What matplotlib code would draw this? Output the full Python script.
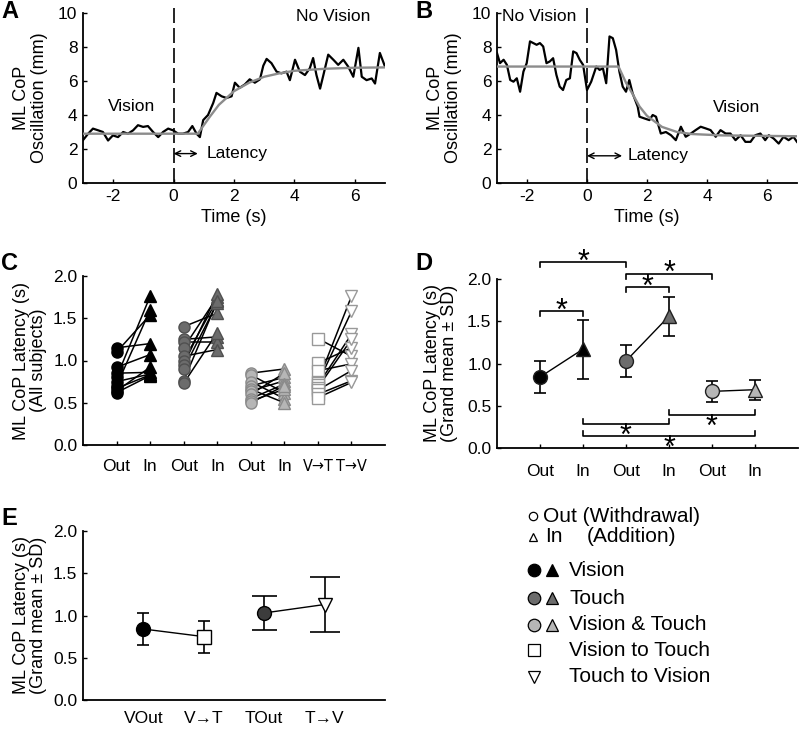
import matplotlib
matplotlib.use("Agg")
import matplotlib.pyplot as plt

plt.rcParams['font.family'] = ['Liberation Sans', 'DejaVu Sans']
plt.rcParams['axes.unicode_minus'] = False

# ---- panel A: vision -> no vision ----
a_t = [-3.00, -2.83, -2.67, -2.50, -2.34, -2.17, -2.01, -1.84, -1.67, -1.51,
       -1.34, -1.18, -1.01, -0.85, -0.68, -0.51, -0.35, -0.18, -0.02, 0.15,
       0.31, 0.48, 0.62, 0.76, 0.87, 0.98, 1.14, 1.31, 1.42, 1.59,
       1.75, 1.92, 2.03, 2.19, 2.36, 2.52, 2.69, 2.86, 2.97, 3.08,
       3.24, 3.41, 3.57, 3.74, 3.85, 4.02, 4.18, 4.35, 4.51, 4.62,
       4.73, 4.85, 4.96, 5.12, 5.29, 5.45, 5.62, 5.78, 5.95, 6.12,
       6.23, 6.39, 6.56, 6.67, 6.83, 7.00]
a_cop = [2.52, 2.9, 3.2, 3.1, 3.0, 2.5, 2.8, 2.7, 3.0, 2.9,
         3.1, 3.4, 3.3, 3.35, 3.0, 2.7, 3.0, 3.2, 3.1, 2.9,
         2.9, 3.0, 3.35, 2.9, 2.7, 3.7, 4.0, 4.7, 5.3, 5.1,
         5.0, 5.1, 5.9, 5.6, 5.8, 6.1, 5.9, 6.1, 6.9, 7.3,
         7.05, 6.55, 6.45, 6.55, 6.05, 7.25, 6.55, 6.35, 6.75, 7.35,
         6.35, 5.55, 6.35, 7.55, 7.25, 6.95, 7.25, 6.85, 6.25, 7.95,
         6.25, 6.05, 6.15, 5.85, 7.65, 6.85]
a_fit_t = [-3.0, 0.8, 1.0, 1.2, 1.5, 2.0, 2.5, 3.0, 3.5, 4.0, 5.0, 6.0, 7.0]
a_fit = [2.9, 2.9, 3.4, 3.9, 4.6, 5.4, 5.9, 6.25, 6.45, 6.6, 6.72, 6.78, 6.8]

# ---- panel B: no vision -> vision ----
b_t = [-3.0, -2.90, -2.78, -2.67, -2.56, -2.45, -2.34, -2.23, -2.12, -2.01,
       -1.90, -1.79, -1.68, -1.57, -1.46, -1.35, -1.24, -1.13, -1.02, -0.91,
       -0.80, -0.69, -0.57, -0.46, -0.35, -0.24, -0.13, 0.0, 0.14, 0.31,
       0.42, 0.53, 0.64, 0.75, 0.86, 0.97, 1.08, 1.19, 1.30, 1.41,
       1.52, 1.69, 1.75, 1.91, 2.08, 2.19, 2.30, 2.46, 2.63, 2.80,
       2.96, 3.13, 3.29, 3.46, 3.62, 3.79, 3.96, 4.12, 4.29, 4.45,
       4.62, 4.78, 4.95, 5.12, 5.28, 5.45, 5.61, 5.78, 5.94, 6.06,
       6.22, 6.39, 6.55, 6.72, 6.88, 7.0]
b_cop = [7.64, 7.05, 7.25, 6.95, 6.06, 5.96, 6.16, 5.37, 6.55, 7.05,
         8.33, 8.23, 8.13, 8.23, 8.03, 7.05, 7.15, 7.34, 6.36, 5.67,
         5.47, 6.06, 6.16, 7.74, 7.64, 7.24, 6.95, 5.47, 5.96, 6.85,
         6.65, 6.75, 5.87, 8.62, 8.52, 7.83, 6.55, 5.67, 5.37, 6.06,
         5.28, 4.49, 3.90, 3.80, 3.70, 4.0, 3.9, 2.91, 3.0, 2.81,
         2.52, 3.31, 2.72, 2.91, 3.11, 3.31, 3.21, 3.11, 2.72, 3.11,
         2.91, 2.91, 2.52, 2.81, 2.42, 2.42, 2.81, 2.91, 2.52, 2.81,
         2.62, 2.32, 2.72, 2.52, 2.72, 2.42]
b_fit_t = [-3.0, 1.05, 1.3, 1.5, 1.75, 2.0, 2.5, 3.0, 3.5, 4.5, 7.0]
b_fit = [6.85, 6.85, 5.9, 5.3, 4.5, 3.95, 3.3, 3.0, 2.88, 2.8, 2.75]

# ---- panel C: individual latencies (s) ----
c_labels = ["Out", "In", "Out", "In", "Out", "In", "V\u2192T", "T\u2192V"]
c_vis_out = [1.15, 1.10, 0.92, 0.85, 0.80, 0.75, 0.70, 0.67, 0.64, 0.62]
c_vis_in = [1.20, 1.54, 1.07, 0.86, 1.76, 0.84, 1.60, 0.83, 0.92, 0.82]
c_tou_out = [1.40, 1.25, 1.22, 1.15, 1.05, 1.00, 0.95, 0.90, 0.76, 0.73]
c_tou_in = [1.56, 1.28, 1.22, 1.75, 1.13, 1.72, 1.79, 1.68, 1.70, 1.33]
c_vt_out = [0.85, 0.83, 0.75, 0.70, 0.66, 0.64, 0.60, 0.55, 0.52, 0.50]
c_vt_in = [0.90, 0.62, 0.55, 0.80, 0.50, 0.76, 0.85, 0.72, 0.66, 0.70]
c_v2t = [1.26, 0.97, 0.88, 0.75, 0.73, 0.71, 0.68, 0.65, 0.60, 0.56]
c_t2v = [1.05, 1.15, 0.96, 1.76, 1.58, 1.31, 1.25, 0.88, 0.76, 0.74]

# ---- panel D: grand means ----
d_labels = ["Out", "In", "Out", "In", "Out", "In"]
d_mean = [0.84, 1.17, 1.03, 1.56, 0.67, 0.69]
d_sd = [0.19, 0.35, 0.19, 0.23, 0.12, 0.12]
# (from, to, bar level) ; top brackets open downward, bottom ones upward
d_sig_top = [(1, 2, 1.62), (1, 3, 2.20), (3, 4, 1.90), (3, 5, 2.06)]
d_sig_bot = [(4, 6, 0.39), (2, 4, 0.285), (2, 6, 0.142)]

# ---- panel E ----
e_labels = ["VOut", "V\u2192T", "TOut", "T\u2192V"]
e_mean = [0.84, 0.75, 1.03, 1.13]
e_sd = [0.19, 0.19, 0.20, 0.32]

BLACK, DGRAY, LGRAY = "#000000", "#6c6c6c", "#b6b6b6"

fig = plt.figure(figsize=(8, 7.3), dpi=100)
W, H = 800.0, 730.0


def box(l, r, t, b):
    return [l / W, 1 - b / H, (r - l) / W, (b - t) / H]


def style(ax):
    for s in ["top", "right"]:
        ax.spines[s].set_visible(False)
    for s in ["left", "bottom"]:
        ax.spines[s].set_linewidth(1.3)
    ax.tick_params(direction="in", length=3, width=1, labelsize=12.5, pad=4)


def trace(ax, t, y, ft, fy):
    style(ax)
    ax.plot(t, y, color="k", lw=1.6, zorder=3)
    ax.plot(ft, fy, color="#8c8c8c", lw=1.7, zorder=4)
    ax.plot([0, 0], [0, 10.3], color="k", lw=1.2, ls=(0, (9, 3)), clip_on=False)
    ax.set_xlim(-3, 7)
    ax.set_ylim(0, 10)
    ax.set_xticks([-2, 0, 2, 4, 6])
    ax.set_yticks([0, 2, 4, 6, 8, 10])
    ax.set_xlabel("Time (s)", fontsize=13, labelpad=4)
    ax.set_ylabel("ML CoP\nOscillation (mm)", fontsize=13, linespacing=1.1)
    ax.yaxis.set_label_coords(-0.115, 0.5)


axA = fig.add_axes(box(83, 385, 13, 183))
trace(axA, a_t, a_cop, a_fit_t, a_fit)
axA.annotate("", xy=(0.8, 1.73), xytext=(0, 1.73),
             arrowprops=dict(arrowstyle="<->", lw=1.0, color="k", shrinkA=0, shrinkB=0))
axA.text(1.1, 1.73, "Latency", fontsize=12.5, va="center")
axA.text(5.3, 9.8, "No Vision", fontsize=12.5, ha="center", va="center")
axA.text(-1.4, 4.5, "Vision", fontsize=12.5, ha="center", va="center")

axB = fig.add_axes(box(497, 797, 13, 183))
trace(axB, b_t, b_cop, b_fit_t, b_fit)
axB.annotate("", xy=(1.17, 1.6), xytext=(0, 1.6),
             arrowprops=dict(arrowstyle="<->", lw=1.0, color="k", shrinkA=0, shrinkB=0))
axB.text(1.35, 1.6, "Latency", fontsize=12.5, va="center")
axB.text(-1.6, 9.8, "No Vision", fontsize=12.5, ha="center", va="center")
axB.text(5.0, 4.45, "Vision", fontsize=12.5, ha="center", va="center")

# ---- C ----
axC = fig.add_axes(box(83, 385, 276, 445))
style(axC)
groups = [
    (c_vis_out, c_vis_in, dict(marker="o", mfc=BLACK, mec=BLACK), dict(marker="^", mfc=BLACK, mec=BLACK)),
    (c_tou_out, c_tou_in, dict(marker="o", mfc=DGRAY, mec="#505050"), dict(marker="^", mfc=DGRAY, mec="#505050")),
    (c_vt_out, c_vt_in, dict(marker="o", mfc=LGRAY, mec="#8a8a8a"), dict(marker="^", mfc=LGRAY, mec="#8a8a8a")),
    (c_v2t, c_t2v, dict(marker="s", mfc="white", mec="#999999"), dict(marker="v", mfc="white", mec="#999999")),
]
for g, (outs, ins, m1, m2) in enumerate(groups):
    x1, x2 = 2 * g + 1, 2 * g + 2
    for o, i in zip(outs, ins):
        axC.plot([x1, x2], [o, i], color="k", lw=1.1, zorder=2)
    axC.plot([x1] * len(outs), outs, ls="none", ms=8, mew=1, zorder=3, **m1)
    axC.plot([x2] * len(ins), ins, ls="none", ms=8, mew=1, zorder=3, **m2)
axC.set_xlim(0, 9)
axC.set_ylim(0, 2.0)
axC.set_xticks(range(1, 9))
axC.set_xticklabels(c_labels)
axC.tick_params(axis="x", pad=10)
for lab in axC.get_xticklabels()[6:]:
    lab.set_fontsize(11.5)
    lab.set_family(["DejaVu Sans"])
    lab.set_fontstretch("condensed")
axC.set_yticks([0, 0.5, 1.0, 1.5, 2.0])
axC.set_yticklabels(["0.0", "0.5", "1.0", "1.5", "2.0"])
axC.set_ylabel("ML CoP Latency (s)\n(All subjects)", fontsize=13, linespacing=1.0)
axC.yaxis.set_label_coords(-0.12, 0.5)

# ---- D ----
axD = fig.add_axes(box(497, 798, 279, 448))
style(axD)
d_fc = [BLACK, BLACK, DGRAY, DGRAY, LGRAY, LGRAY]
d_mk = ["o", "^", "o", "^", "o", "^"]
for p in range(3):
    xs = [2 * p + 1, 2 * p + 2]
    axD.plot(xs, d_mean[2 * p:2 * p + 2], color="k", lw=1.0, zorder=2)
for k in range(6):
    axD.errorbar(k + 1, d_mean[k], yerr=d_sd[k], fmt="none", ecolor="k",
                 elinewidth=1.2, capsize=4, capthick=1.2, zorder=2)
    axD.plot(k + 1, d_mean[k], marker=d_mk[k], ms=10, mfc=d_fc[k], mec="#202020",
             mew=1, ls="none", zorder=3)
leg = 0.055
for x1, x2, yb in d_sig_top:
    axD.plot([x1, x1, x2, x2], [yb - leg, yb, yb, yb - leg], color="k", lw=1.2, clip_on=False)
    axD.text((x1 + x2) / 2, yb - 0.004, "*", fontsize=22, ha="center", va="center", clip_on=False)
for x1, x2, yb in d_sig_bot:
    axD.plot([x1, x1, x2, x2], [yb + leg, yb, yb, yb + leg], color="k", lw=1.2, clip_on=False)
    axD.text((x1 + x2) / 2, yb - 0.15, "*", fontsize=22, ha="center", va="center", clip_on=False)
axD.set_xlim(0, 7)
axD.set_ylim(0, 2.0)
axD.set_xticks(range(1, 7))
axD.set_xticklabels(d_labels)
axD.tick_params(axis="x", pad=11.5)
axD.set_yticks([0, 0.5, 1.0, 1.5, 2.0])
axD.set_yticklabels(["0.0", "0.5", "1.0", "1.5", "2.0"])
axD.set_ylabel("ML CoP Latency (s)\n(Grand mean \u00b1 SD)", fontsize=13, linespacing=1.0)
axD.yaxis.set_label_coords(-0.13, 0.5)

# ---- E ----
axE = fig.add_axes(box(83, 385, 531, 700))
style(axE)
e_style = [dict(marker="o", mfc=BLACK, mec=BLACK), dict(marker="s", mfc="white", mec=BLACK),
           dict(marker="o", mfc="#3c3c3c", mec=BLACK), dict(marker="v", mfc="white", mec=BLACK)]
e_cap = [4, 4, 9, 11]
axE.plot([1, 2], e_mean[0:2], color="k", lw=1.0, zorder=2)
axE.plot([3, 4], e_mean[2:4], color="k", lw=1.0, zorder=2)
for k in range(4):
    axE.errorbar(k + 1, e_mean[k], yerr=e_sd[k], fmt="none", ecolor="k",
                 elinewidth=1.2, capsize=e_cap[k], capthick=1.2, zorder=2)
    axE.plot(k + 1, e_mean[k], ms=10, mew=1, ls="none", zorder=3, **e_style[k])
axE.set_xlim(0, 5)
axE.set_ylim(0, 2.0)
axE.set_xticks(range(1, 5))
axE.set_xticklabels(e_labels)
axE.tick_params(axis="x", length=0, pad=8)
axE.set_yticks([0, 0.5, 1.0, 1.5, 2.0])
axE.set_yticklabels(["0.0", "0.5", "1.0", "1.5", "2.0"])
axE.set_ylabel("ML CoP Latency (s)\n(Grand mean \u00b1 SD)", fontsize=13, linespacing=1.0)
axE.yaxis.set_label_coords(-0.12, 0.5)

# ---- legend + panel letters (pixel overlay) ----
ov = fig.add_axes([0, 0, 1, 1], facecolor="none")
ov.set_xlim(0, W)
ov.set_ylim(H, 0)
ov.axis("off")
FS = 15
ov.plot(533, 516, marker="o", ms=6, mfc="white", mec="k", mew=0.9)
ov.text(543, 516, "Out (Withdrawal)", fontsize=FS, va="center")
ov.plot(533, 537, marker="^", ms=6, mfc="white", mec="k", mew=0.9)
ov.text(545, 537, "In", fontsize=FS, va="center")
ov.text(587, 537, "(Addition)", fontsize=FS, va="center")
rows = [("Vision", BLACK, 570), ("Touch", DGRAY, 598), ("Vision & Touch", LGRAY, 625)]
for name, col, yy in rows:
    ov.plot(534, yy, marker="o", ms=9, mfc=col, mec="k", mew=0.9)
    ov.plot(552, yy, marker="^", ms=9, mfc=col, mec="k", mew=0.9)
    ov.text(569, yy, name, fontsize=FS, va="center")
ov.plot(534, 650, marker="s", ms=8, mfc="white", mec="k", mew=0.9)
ov.text(569, 650, "Vision to Touch", fontsize=FS, va="center")
ov.plot(534, 677, marker="v", ms=8, mfc="white", mec="k", mew=0.9)
ov.text(569, 677, "Touch to Vision", fontsize=FS, va="center")
for lab, px, py in [("A", 1, 0), ("B", 415, 0), ("C", 1, 252), ("D", 415, 252), ("E", 1, 507)]:
    ov.text(px, py, lab, fontsize=17, fontweight="bold", va="top")

fig.savefig("out.png", dpi=100)
